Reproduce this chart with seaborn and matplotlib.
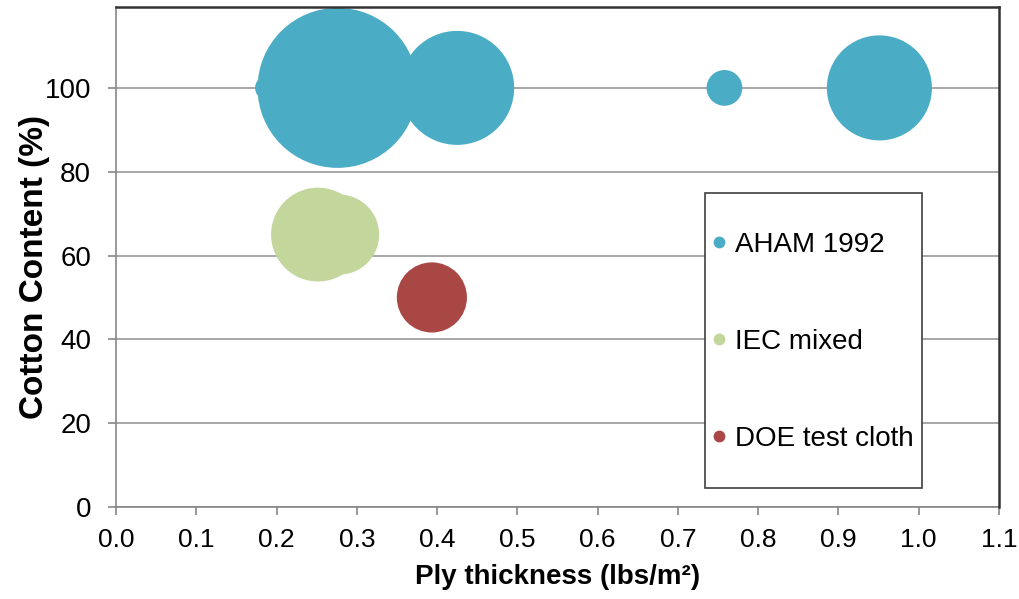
import matplotlib
matplotlib.use("Agg")
import matplotlib.pyplot as plt
import seaborn as sns
import pandas as pd
from matplotlib.lines import Line2D
from matplotlib.patches import Rectangle

# ---- data ----
series = ["AHAM 1992", "AHAM 1992", "AHAM 1992", "AHAM 1992", "AHAM 1992",
          "IEC mixed", "IEC mixed", "DOE test cloth"]
ply_thickness = [0.188, 0.276, 0.425, 0.758, 0.951, 0.2516, 0.278, 0.3935]
cotton_content = [100, 100, 100, 100, 100, 65, 65, 50]
bubble_size = [1.4, 64.0, 32.5, 3.2, 27.6, 22.0, 16.0, 12.3]
legend_labels = ["AHAM 1992", "IEC mixed", "DOE test cloth"]
colors = {"AHAM 1992": "#4BACC6", "IEC mixed": "#C3D69B", "DOE test cloth": "#A94744"}
x_ticks = [0.0, 0.1, 0.2, 0.3, 0.4, 0.5, 0.6, 0.7, 0.8, 0.9, 1.0, 1.1]
y_ticks = [0, 20, 40, 60, 80, 100]

df = pd.DataFrame({"series": series, "x": ply_thickness, "y": cotton_content,
                   "size": bubble_size})

sns.set_theme(style="white")
plt.rcParams["font.family"] = ["Liberation Sans", "DejaVu Sans"]
plt.rcParams["text.color"] = "black"
plt.rcParams["axes.labelcolor"] = "black"

DPI = 100
fig = plt.figure(figsize=(10.19, 5.99), dpi=DPI)
ax = fig.add_axes([116 / 1019, 1 - 507 / 599, 883 / 1019, 500 / 599])

vmax = max(bubble_size)
smax = 207.3 * vmax
sns.scatterplot(data=df, x="x", y="y", hue="series", size="size",
                palette=colors, sizes=(0, smax), size_norm=(0, vmax),
                linewidth=0, alpha=1, legend=False, ax=ax, zorder=3)

ax.set_xlim(0, 1.1)
ax.set_ylim(0, 119.3)
ax.set_xticks(x_ticks)
ax.set_xticklabels([f"{t:.1f}" for t in x_ticks])
ax.set_yticks(y_ticks)
ax.set_yticklabels([str(t) for t in y_ticks])

ax.yaxis.grid(True, color="#A0A0A0", linewidth=1.3, zorder=0)
ax.xaxis.grid(False)
ax.set_axisbelow(True)

for side in ["left", "bottom"]:
    ax.spines[side].set_color("#868686")
    ax.spines[side].set_linewidth(1.2)
for side in ["top", "right"]:
    ax.spines[side].set_color("#333333")
    ax.spines[side].set_linewidth(1.8)
    ax.spines[side].set_zorder(5)

ax.tick_params(axis="x", which="major", direction="out", length=6, width=1.2,
               color="#868686", labelsize=19, pad=9, labelcolor="black", bottom=True)
ax.tick_params(axis="y", which="major", direction="out", length=6, width=1.2,
               color="#868686", labelsize=20, pad=12, labelcolor="black", left=True)

ax.set_xlabel("Ply thickness (lbs/m²)", fontsize=20, fontweight="bold",
              labelpad=9, color="black")
ax.set_ylabel("Cotton Content (%)", fontsize=24, fontweight="bold", color="black")
ax.yaxis.set_label_coords(-0.075, (507 - 267) / 500)

# legend frame
x0, x1 = (705 - 116) / 883, (922 - 116) / 883
y1, y0 = (507 - 193) / 500, (507 - 488) / 500
rect = Rectangle((x0, y0), x1 - x0, y1 - y0, transform=ax.transAxes,
                 facecolor="white", edgecolor="#404040", linewidth=1.2, zorder=6)
ax.add_patch(rect)

handles = [Line2D([0], [0], marker="o", linestyle="none", markersize=8.5,
                  markerfacecolor=colors[l], markeredgewidth=0) for l in legend_labels]
leg = ax.legend(handles, legend_labels, loc="upper left",
                bbox_to_anchor=((711 - 116) / 883, (507 - 232) / 500),
                frameon=False, fontsize=20, labelspacing=2.55,
                handlelength=0.6, handletextpad=0.25, borderpad=0, borderaxespad=0)
leg.set_zorder(7)

fig.savefig("out.png", dpi=DPI)
